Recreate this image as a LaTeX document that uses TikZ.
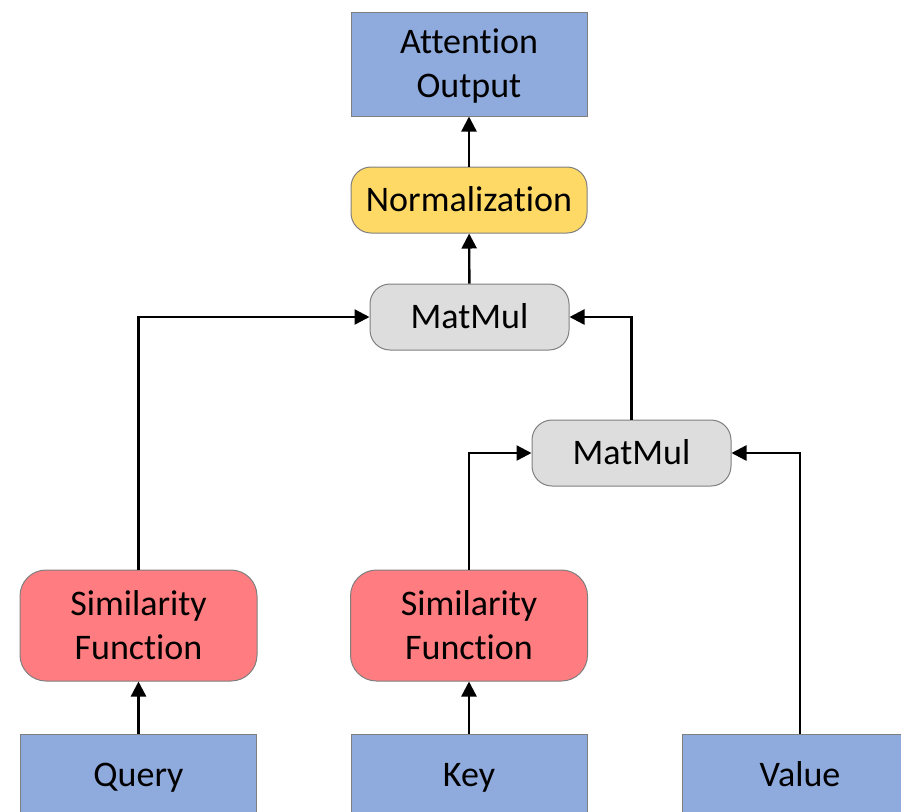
\documentclass[tikz,border=0pt]{standalone}
\usepackage{fontspec}
\setmainfont{Carlito}[Ligatures={NoCommon}]
\usetikzlibrary{arrows.meta}
\definecolor{cblue}{HTML}{8FAADC}
\definecolor{cyellow}{HTML}{FFD966}
\definecolor{cred}{HTML}{FF7C80}
\definecolor{cgray}{HTML}{DDDDDD}
\definecolor{cborder}{HTML}{7F7F7F}
\begin{document}
\begin{tikzpicture}[x=0.5pt,y=-0.5pt,
  lbl/.style={inner sep=0pt, align=center, font=\fontsize{18}{22}\selectfont, text=black},
  box/.style={lbl, draw=cborder, line width=0.5pt},
  one/.style={text height=13pt, text depth=2pt},
  bluebox/.style={box, fill=cblue, minimum width=118pt, minimum height=52pt},
  inbox/.style={box, one, fill=cblue, minimum width=118pt, minimum height=41pt},
  normbox/.style={box, one, fill=cyellow, rounded corners=10pt, minimum width=118pt, minimum height=33pt},
  mulbox/.style={box, one, fill=cgray, rounded corners=10pt, minimum width=99.5pt, minimum height=33pt},
  simbox/.style={box, fill=cred, rounded corners=13pt, minimum width=118.5pt, minimum height=55.5pt},
  arr/.style={line width=1.2pt, -{Triangle[length=7.5pt,width=7.5pt]}}]
\useasboundingbox (0,0) rectangle (901,811);
\node[bluebox] (out) at (469,64) {};
\node[lbl] (outtext) at (469,66) {Attention\\Output};
\node[normbox] (n) at (469,200) {Normalization};
\node[mulbox] (m1) at (469.5,317) {MatMul};
\node[mulbox] (m2) at (631.5,453) {MatMul};
\node[simbox] (s1) at (138.5,625.5) {Similarity\\Function};
\node[simbox] (s2) at (469,625.5) {Similarity\\Function};
\node[inbox] (q) at (138.5,775) {Query};
\node[inbox] (k) at (469,775) {Key};
\node[inbox] (v) at (800,775) {Value};
\draw[arr] (q) -- (s1);
\draw[arr] (k) -- (s2);
\draw[arr] (s1.north) |- (m1.west);
\draw[arr] (s2.north) |- (m2.west);
\draw[arr] (v.north) |- (m2.east);
\draw[arr] (m2.north) |- (m1.east);
\draw[arr] (m1) -- (n);
\draw[arr] (n) -- (out);
\end{tikzpicture}
\end{document}
